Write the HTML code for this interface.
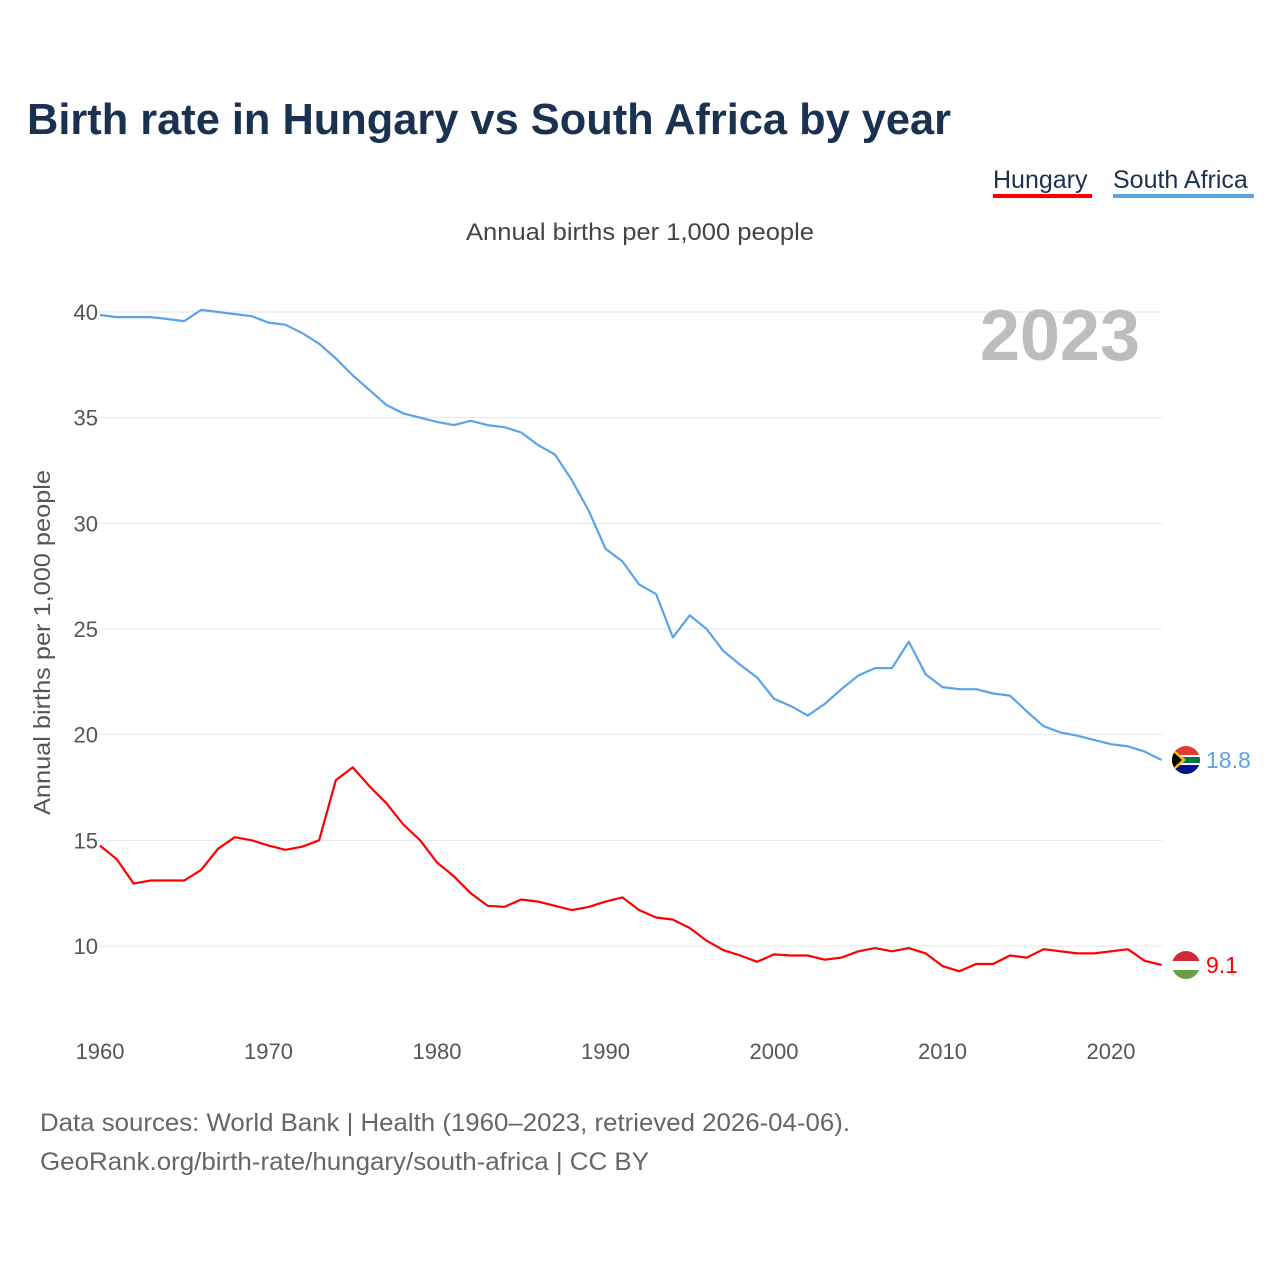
<!DOCTYPE html>
<html><head><meta charset="utf-8">
<style>
body{margin:0;background:#fff;font-family:"Liberation Sans",sans-serif;}
#wrap{position:relative;width:1280px;height:1280px;overflow:hidden;}
</style></head>
<body>
<div id="wrap">
<svg id="chart" width="1280" height="1280" font-family="Liberation Sans, sans-serif">
<text x="27" y="134" font-size="44" font-weight="bold" fill="#1a3150" textLength="924" lengthAdjust="spacingAndGlyphs">Birth rate in Hungary vs South Africa by year</text>
<g><text x="993" y="188" font-size="25" fill="#1a3150">Hungary</text><rect x="993" y="194" width="99" height="4" fill="#ff0000"/></g>
<g><text x="1113" y="188" font-size="25" fill="#1a3150">South Africa</text><rect x="1113" y="194" width="141" height="4" fill="#5ba3e8"/></g>
<text x="466" y="240" font-size="24" fill="#444" textLength="348" lengthAdjust="spacingAndGlyphs">Annual births per 1,000 people</text>
<text transform="translate(50,815) rotate(-90)" font-size="23" fill="#555" textLength="345" lengthAdjust="spacingAndGlyphs">Annual births per 1,000 people</text>
<g id="grid"></g><g id="lines"></g><g id="ends"></g>
<text x="1140" y="360" font-size="72" font-weight="bold" fill="#bdbdbd" text-anchor="end">2023</text>
<text x="40" y="1131" font-size="25" fill="#666" textLength="810" lengthAdjust="spacingAndGlyphs">Data sources: World Bank | Health (1960–2023, retrieved 2026-04-06).</text>
<text x="40" y="1170" font-size="25" fill="#666" textLength="609" lengthAdjust="spacingAndGlyphs">GeoRank.org/birth-rate/hungary/south-africa | CC BY</text>
</svg>
</div>
<script>
const years=[];for(let y=1960;y<=2023;y++)years.push(y);
const southAfrica=[39.86,39.76,39.76,39.76,39.67,39.57,40.1,40.0,39.9,39.8,39.5,39.4,39.0,38.5,37.8,37.0,36.3,35.6,35.2,35.0,34.8,34.65,34.85,34.65,34.55,34.3,33.7,33.25,32.05,30.6,28.8,28.2,27.1,26.65,24.6,25.65,25.0,23.95,23.3,22.7,21.7,21.35,20.9,21.45,22.15,22.8,23.15,23.15,24.4,22.85,22.25,22.15,22.15,21.95,21.85,21.1,20.4,20.1,19.95,19.75,19.55,19.45,19.2,18.8];
const hungary=[14.75,14.1,12.95,13.1,13.1,13.1,13.6,14.6,15.15,15.0,14.75,14.55,14.7,15.0,17.85,18.45,17.55,16.75,15.75,15.0,13.95,13.3,12.5,11.9,11.85,12.2,12.1,11.9,11.7,11.85,12.1,12.3,11.7,11.35,11.25,10.85,10.25,9.8,9.55,9.25,9.6,9.55,9.55,9.35,9.45,9.75,9.9,9.75,9.9,9.65,9.05,8.8,9.15,9.15,9.55,9.45,9.85,9.75,9.65,9.65,9.75,9.85,9.3,9.1];
const yTicks=[10,15,20,25,30,35,40];
const xTicks=[1960,1970,1980,1990,2000,2010,2020];
const NS="http://www.w3.org/2000/svg";
const xS=y=>100+(y-1960)*16.85;
const yS=v=>312+(40-v)*21.133;
function mk(tag,attrs,parent){const e=document.createElementNS(NS,tag);for(const k in attrs)e.setAttribute(k,attrs[k]);parent.appendChild(e);return e;}
const grid=document.getElementById('grid'),lines=document.getElementById('lines'),ends=document.getElementById('ends');
yTicks.forEach(v=>{
 const l=mk('line',{x1:95,x2:1162,y1:yS(v),y2:yS(v),stroke:'#e6e6e6','stroke-width':1},grid);
 
 
 const t=mk('text',{x:98,y:yS(v)+8,'font-size':22,fill:'#555','text-anchor':'end'},grid);t.textContent=v;
 
 
});
xTicks.forEach(y=>{
 const t=mk('text',{x:xS(y),y:1059,'font-size':22,fill:'#555','text-anchor':'middle'},grid);t.textContent=y;
 
 
});
function line(data,color,name){
 const d=data.map((v,i)=>(i?'L':'M')+xS(years[i]).toFixed(1)+','+yS(v).toFixed(1)).join('');
 const p=mk('path',{d:d,fill:'none',stroke:color,'stroke-width':2.2,'stroke-linejoin':'round'},lines);
 
 
}
line(southAfrica,'#5ba3e8','south-africa-line');
line(hungary,'#ff0000','hungary-line');
const saY=yS(southAfrica[southAfrica.length-1]),huY=yS(hungary[hungary.length-1]);
const fx=1186;
let g=mk('g',{},ends);


const cp1=mk('clipPath',{id:'c1'},g);mk('circle',{cx:fx,cy:saY,r:14},cp1);
let gg=mk('g',{'clip-path':'url(#c1)'},g);
mk('rect',{x:fx-14,y:saY-14,width:28,height:14,fill:'#e03c31'},gg);
mk('rect',{x:fx-14,y:saY,width:28,height:14,fill:'#001489'},gg);
mk('rect',{x:fx-14,y:saY-5,width:28,height:10,fill:'#fff'},gg);
mk('rect',{x:fx-14,y:saY-3,width:28,height:6,fill:'#007749'},gg);
mk('polygon',{points:`${fx-14},${saY-12} ${fx},${saY} ${fx-14},${saY+12}`,fill:'#ffb81c'},gg);
mk('polygon',{points:`${fx-14},${saY-9} ${fx-4},${saY} ${fx-14},${saY+9}`,fill:'#000'},gg);
let t=mk('text',{x:1206,y:saY+8,'font-size':23,fill:'#5ba3e8'},ends);t.textContent=southAfrica[southAfrica.length-1].toFixed(1);


g=mk('g',{},ends);


const cp=mk('clipPath',{id:'c2'},g);mk('circle',{cx:fx,cy:huY,r:14},cp);
gg=mk('g',{'clip-path':'url(#c2)'},g);
mk('rect',{x:fx-14,y:huY-14,width:28,height:10,fill:'#ce2939'},gg);
mk('rect',{x:fx-14,y:huY-4,width:28,height:9,fill:'#fff'},gg);
mk('rect',{x:fx-14,y:huY+5,width:28,height:10,fill:'#6a9f45'},gg);
t=mk('text',{x:1206,y:huY+8,'font-size':23,fill:'#ff0000'},ends);t.textContent=hungary[hungary.length-1].toFixed(1);


</script>
</body></html>
